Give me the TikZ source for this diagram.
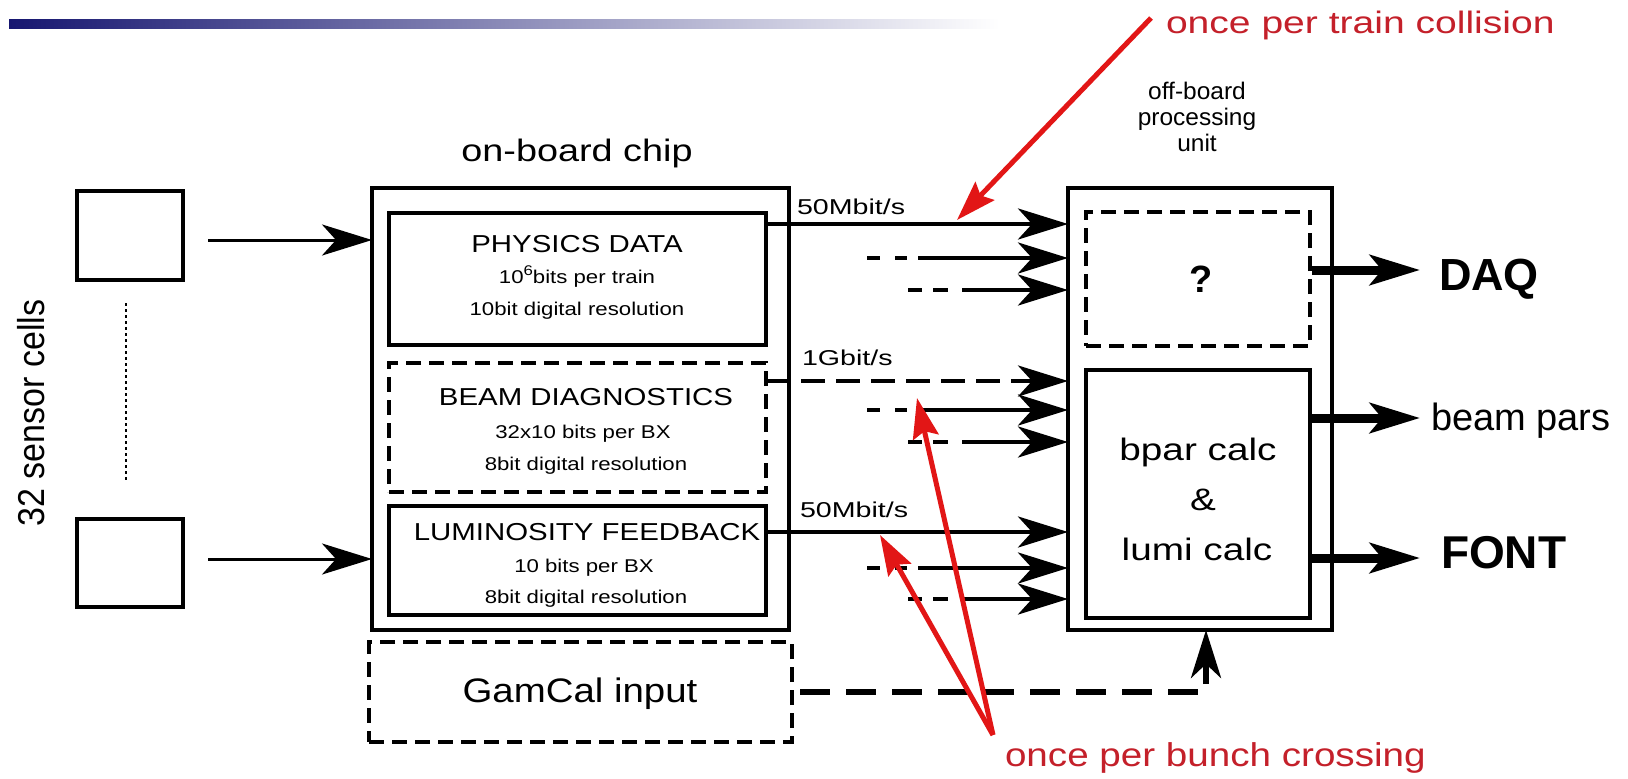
\documentclass[tikz,border=0pt]{standalone}
\usepackage{fontspec}
\setmainfont{Liberation Sans}
\usepackage{graphicx}
\usetikzlibrary{arrows.meta}
\definecolor{navy}{RGB}{22,22,112}
\definecolor{linered}{RGB}{226,22,22}
\definecolor{textred}{RGB}{196,32,42}
% text with a given size (pt) and horizontal stretch
\newcommand\tx[3]{\scalebox{#2}[1]{\fontsize{#1}{#1}\selectfont #3}}
\newcommand\txb[3]{\scalebox{#2}[1]{\fontsize{#1}{#1}\selectfont\bfseries #3}}
\begin{document}
\begin{tikzpicture}[x=1pt,y=-1pt,
  box/.style={draw, line width=3.1pt, inner sep=0pt, outer sep=0pt},
  dbox/.style={box, dash pattern=on 15pt off 8pt},
  lbl/.style={inner sep=0pt, outer sep=0pt},
  sarrow/.style={line width=3pt, -{Stealth[length=50pt,width=31pt,inset=14pt]}},
  feed/.style={line width=4.6pt, -{Stealth[length=50pt,width=31pt,inset=14pt]}},
  outarr/.style={line width=9pt, -{Stealth[length=50pt,width=30pt,inset=12pt]}},
  gline/.style={line width=5.5pt, dash pattern=on 30pt off 16pt, dash phase=38pt,
                -{Stealth[length=48pt,width=30pt,inset=14pt]}},
  redarr/.style={draw=linered, line width=5pt, -{Stealth[length=40pt,width=26pt,inset=6pt]}},
  redtxt/.style={lbl, text=textred, anchor=base west}
]
\fill[white] (0,0) rectangle (1628,779);
\useasboundingbox (0,0) rectangle (1628,779);

% heading rule
\shade[left color=navy, right color=white] (9,19) rectangle (1000,28);

% sensor cells
\node[box, minimum width=106pt, minimum height=89pt] (s1) at (130,235.5) {};
\node[box, minimum width=106pt, minimum height=88pt] (s2) at (130,563) {};
\draw[line width=2pt, dash pattern=on 3pt off 3pt, shorten <=23pt, shorten >=37pt]
  ([xshift=-4pt]s1.south) -- ([xshift=-4pt]s2.north);
\node[lbl, rotate=90] (cells) at (31,413)
  {\scalebox{1}[1.1]{\fontsize{34}{34}\selectfont 32 sensor cells}};

% on-board chip
\node[box, minimum width=417pt, minimum height=442pt] (chip) at (580.5,409) {};
\node[lbl, anchor=base] (chipt) at (577,161) {\tx{31}{1.22}{on-board chip}};
\node[box, minimum width=377pt, minimum height=132pt] (phys) at (577.5,279) {};
\node[dbox, minimum width=377pt, minimum height=129pt] (beam) at (577.5,427.5) {};
\node[box, minimum width=377pt, minimum height=109pt] (lumi) at (577.5,560.5) {};

\node[lbl, anchor=base] (p1) at (577,252) {\tx{24.5}{1.2}{PHYSICS DATA}};
\node[lbl, anchor=base] (p2) at (577,283)
  {\tx{18.5}{1.2}{10\raisebox{0.42em}{\fontsize{14}{14}\selectfont 6}bits per train}};
\node[lbl, anchor=base] (p3) at (577,315) {\tx{18.5}{1.2}{10bit digital resolution}};

\node[lbl, anchor=base] (b1) at (586,405) {\tx{24.5}{1.2}{BEAM DIAGNOSTICS}};
\node[lbl, anchor=base] (b2) at (583,438) {\tx{18.5}{1.2}{32x10 bits per BX}};
\node[lbl, anchor=base] (b3) at (586,470) {\tx{18.5}{1.2}{8bit digital resolution}};

\node[lbl, anchor=base] (l1) at (587,540) {\tx{24.5}{1.2}{LUMINOSITY FEEDBACK}};
\node[lbl, anchor=base] (l2) at (584,572) {\tx{18.5}{1.2}{10 bits per BX}};
\node[lbl, anchor=base] (l3) at (586,603) {\tx{18.5}{1.2}{8bit digital resolution}};

% GamCal input
\node[dbox, minimum width=423pt, minimum height=100pt] (gam) at (580.5,692) {};
\node[lbl, anchor=base] (gamt) at (580,702) {\tx{34}{1.13}{GamCal input}};

% off-board processing unit
\node[box, minimum width=264pt, minimum height=442pt] (unit) at (1200,409) {};
\node[lbl, anchor=base] (u1) at (1197,99) {\tx{24}{1.02}{off-board}};
\node[lbl, anchor=base] (u2) at (1197,125) {\tx{24}{1.02}{processing}};
\node[lbl, anchor=base] (u3) at (1197,151) {\tx{24}{1.02}{unit}};
\node[dbox, minimum width=224pt, minimum height=134pt] (q) at (1198,279) {};
\node[lbl, anchor=base] (qt) at (1201,292) {\txb{38}{1}{?}};
\node[box, minimum width=224pt, minimum height=248pt] (calc) at (1198,494) {};
\node[lbl, anchor=base] (c1) at (1198,460) {\tx{31}{1.25}{bpar calc}};
\node[lbl, anchor=base] (c2) at (1203,510) {\tx{31}{1.25}{\&}};
\node[lbl, anchor=base] (c3) at (1197,560) {\tx{31}{1.25}{lumi calc}};

% outputs
\node[lbl, anchor=base west] (daq) at (1439,290) {\txb{45}{1}{DAQ}};
\node[lbl, anchor=base west] (bpars) at (1431,430) {\tx{38}{1}{beam pars}};
\node[lbl, anchor=base west] (font) at (1441,568) {\txb{46}{1}{FONT}};

% sensor to chip
\coordinate (si1) at (208,240);
\coordinate (si2) at (208,559);
\draw[sarrow] (si1) -- (si1 -| chip.west);
\draw[sarrow] (si2) -- (si2 -| chip.west);

% data links chip -> processing unit
\coordinate (f1) at ([yshift=-11pt]phys.north east);
\coordinate (f2) at (867,258);
\coordinate (f3) at (908,290);
\draw[feed] (f1) -- (f1 -| unit.west);
\draw[feed, dash pattern=on 13pt off 15pt on 12pt off 11pt on 400pt] (f2) -- (f2 -| unit.west);
\draw[feed, dash pattern=on 14pt off 11pt on 15pt off 14pt on 400pt] (f3) -- (f3 -| unit.west);
\node[lbl, anchor=base west] (r1) at (797,214) {\tx{21.5}{1.33}{50Mbit/s}};

\coordinate (g1) at ([yshift=-18pt]beam.north east);
\coordinate (g2) at (867,410);
\coordinate (g3) at (908,442);
\draw[feed, dash pattern=on 24pt off 11pt] (g1) -- (g1 -| unit.west);
\draw[feed, dash pattern=on 13pt off 15pt on 12pt off 11pt on 400pt] (g2) -- (g2 -| unit.west);
\draw[feed, dash pattern=on 14pt off 11pt on 15pt off 14pt on 400pt] (g3) -- (g3 -| unit.west);
\node[lbl, anchor=base west] (r2) at (802,365) {\tx{21.5}{1.33}{1Gbit/s}};

\coordinate (h1) at ([yshift=-26pt]lumi.north east);
\coordinate (h2) at (867,568);
\coordinate (h3) at (908,599);
\draw[feed] (h1) -- (h1 -| unit.west);
\draw[feed, dash pattern=on 13pt off 15pt on 12pt off 11pt on 400pt] (h2) -- (h2 -| unit.west);
\draw[feed, dash pattern=on 14pt off 11pt on 15pt off 14pt on 400pt] (h3) -- (h3 -| unit.west);
\node[lbl, anchor=base west] (r3) at (800,517) {\tx{21.5}{1.33}{50Mbit/s}};

% GamCal link
\coordinate (gx) at (1206,0);
\draw[gline] (gam.east) -- (gam.east -| gx) -- (gx |- unit.south);

% processing unit outputs
\coordinate (o1) at (1312,270);
\coordinate (o2) at (1312,418);
\coordinate (o3) at (1312,558);
\draw[outarr, shorten >=19pt] (o1) -- (o1 -| daq.west);
\draw[outarr, shorten >=11pt] (o2) -- (o2 -| bpars.west);
\draw[outarr, shorten >=21pt] (o3) -- (o3 -| font.west);

% annotations
\node[redtxt] (ann1) at (1166,34) {\tx{31}{1.26}{once per train collision}};
\node[redtxt] (ann2) at (1005,766) {\tx{33}{1.17}{once per bunch crossing}};
\coordinate (ra) at (1151,18);
\coordinate (rat) at (957,220);
\draw[redarr] (ra) -- (rat);
\coordinate (rc) at (993,735);
\coordinate (rct1) at (917,398);
\coordinate (rct2) at (880,535);
\draw[redarr] (rc) -- (rct1);
\draw[redarr] (rc) -- (rct2);
\end{tikzpicture}
\end{document}
